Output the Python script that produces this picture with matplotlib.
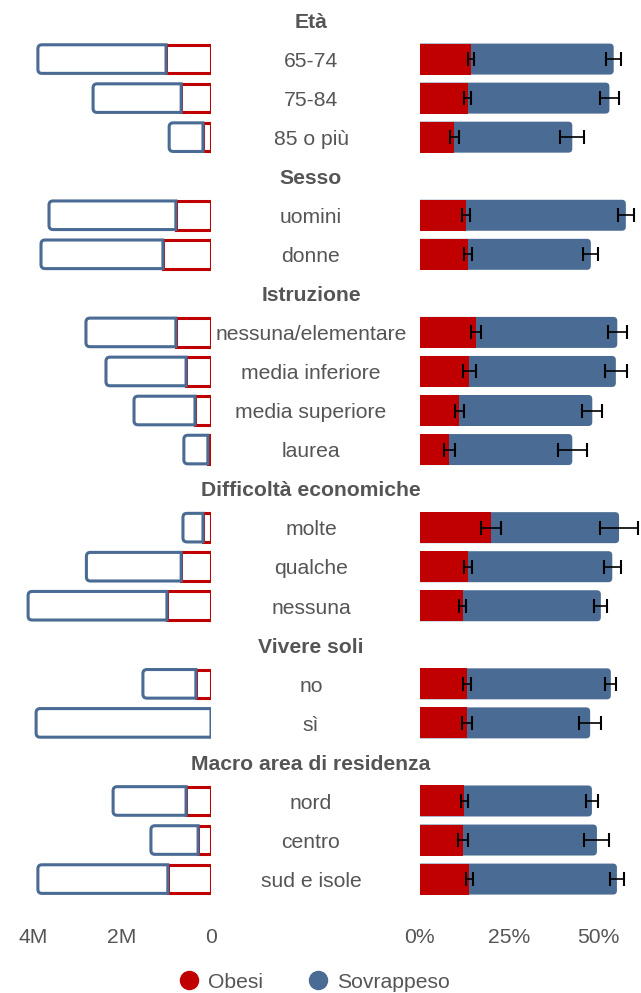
import matplotlib.pyplot as plt
import matplotlib.transforms as mtransforms
from matplotlib.path import Path
from matplotlib.patches import PathPatch, Rectangle
from matplotlib.lines import Line2D

plt.rcParams['font.family'] = ['Liberation Sans', 'DejaVu Sans']

# data
group_titles = ['Età', 'Sesso', 'Istruzione', 'Difficoltà economiche', 'Vivere soli', 'Macro area di residenza']
group_sizes = [3, 2, 4, 3, 2, 3]
categories = ['65-74', '75-84', '85 o più', 'uomini', 'donne',
              'nessuna/elementare', 'media inferiore', 'media superiore', 'laurea',
              'molte', 'qualche', 'nessuna', 'no', 'sì', 'nord', 'centro', 'sud e isole']
# population (millions)
obesi_pop = [1.01, 0.67, 0.18, 0.79, 1.08, 0.79, 0.56, 0.36, 0.07, 0.18, 0.67, 0.99, 0.34, 0.0, 0.56, 0.29, 0.97]
sovrappeso_pop = [2.88, 1.98, 0.76, 2.85, 2.74, 2.02, 1.80, 1.37, 0.54, 0.45, 2.13, 3.12, 1.19, 3.93, 1.64, 1.06, 2.92]
# prevalence (%)
obesi_pct = [14.4, 13.5, 9.8, 13.0, 13.6, 15.8, 14.0, 11.2, 8.4, 20.0, 13.5, 12.1, 13.3, 13.3, 12.5, 12.2, 13.9]
sovrappeso_pct = [40.0, 39.7, 33.0, 44.8, 34.4, 39.6, 41.0, 37.2, 34.4, 35.9, 40.5, 38.7, 40.3, 34.5, 35.8, 37.5, 41.4]
obesi_err = [0.8, 1.0, 1.3, 1.2, 1.1, 1.3, 1.7, 1.2, 1.6, 2.7, 1.1, 0.9, 1.0, 1.3, 1.0, 1.5, 1.0]
sovrappeso_err = [2.1, 2.7, 3.4, 2.3, 2.1, 2.6, 3.0, 2.8, 4.1, 5.4, 2.4, 1.8, 1.5, 3.1, 1.8, 3.5, 2.0]
left_ticks = [-4, -2, 0]
left_ticklabels = ['4M', '2M', '0']
right_ticks = [0, 25, 50]
right_ticklabels = ['0%', '25%', '50%']

RED = '#c00000'
BLUE = '#4a6b93'
TXT = '#555555'
FS = 15.2

W, H = 641, 993
SLOT = 39.05      # px per row
PX_L = 44.5       # px per million
PX_R = 3.57       # px per percent


def side_round_path(x0, x1, yc, h, rx, ry, side):
    y0, y1 = yc - h / 2, yc + h / 2
    if side == 'left':
        verts = [(x1, y0), (x0 + rx, y0), (x0, y0), (x0, y0 + ry), (x0, y1 - ry),
                 (x0, y1), (x0 + rx, y1), (x1, y1), (x1, y0)]
    else:
        verts = [(x0, y0), (x1 - rx, y0), (x1, y0), (x1, y0 + ry), (x1, y1 - ry),
                 (x1, y1), (x1 - rx, y1), (x0, y1), (x0, y0)]
    codes = [Path.MOVETO, Path.LINETO, Path.CURVE3, Path.CURVE3, Path.LINETO,
             Path.CURVE3, Path.CURVE3, Path.LINETO, Path.CLOSEPOLY]
    return Path(verts, codes)


# slot positions
header_y = []
row_y = []
slot = 0
for n in group_sizes:
    header_y.append(slot)
    slot += 1
    for k in range(n):
        row_y.append(slot)
        slot += 1

fig = plt.figure(figsize=(W / 100, H / 100), dpi=100)
ax_top, ax_bot = 0.5, 898.6
rect_y = 1 - ax_bot / H
rect_h = (ax_bot - ax_top) / H
axL = fig.add_axes([0, rect_y, 211 / W, rect_h])
axR = fig.add_axes([419.5 / W, rect_y, (W - 419.5) / W, rect_h])
ylim = (22.5, -0.5)
axL.set_xlim(-211 / PX_L, 0)
axR.set_xlim(0, (W - 419.5) / PX_R)
for ax in (axL, axR):
    ax.set_ylim(*ylim)
    for s in ax.spines.values():
        s.set_visible(False)
    ax.set_yticks([])
    ax.tick_params(axis='x', length=0, pad=21, labelsize=FS, labelcolor=TXT)

# left: population outlines
hL = 28.6 / SLOT
rxL, ry = 4 / PX_L, 4 / SLOT
for y, o, s in zip(row_y, obesi_pop, sovrappeso_pop):
    if o > 0:
        axL.add_patch(Rectangle((-o, y - hL / 2), o, hL, fill=False, edgecolor=RED,
                                linewidth=2.2, joinstyle='miter'))
    p = side_round_path(-(o + s), -o, y, hL, rxL, ry, 'left')
    axL.add_patch(PathPatch(p, fill=False, edgecolor=BLUE, linewidth=2.2))
axL.set_xticks(left_ticks, labels=left_ticklabels)

# right: prevalence bars
hR = 31 / SLOT
rxR = 4 / PX_R
totals = [o + s for o, s in zip(obesi_pct, sovrappeso_pct)]
for y, o, t in zip(row_y, obesi_pct, totals):
    p = side_round_path(0, t, y, hR, rxR, ry, 'right')
    axR.add_patch(PathPatch(p, facecolor=BLUE, edgecolor='none'))
    axR.add_patch(Rectangle((0, y - hR / 2), o, hR, facecolor=RED, edgecolor='none'))
axR.errorbar(obesi_pct, row_y, xerr=obesi_err, fmt='none', ecolor='black',
             elinewidth=1.2, capsize=5, capthick=1.5)
axR.errorbar(totals, row_y, xerr=sovrappeso_err, fmt='none', ecolor='black',
             elinewidth=1.2, capsize=5, capthick=1.5)
axR.set_xticks(right_ticks, labels=right_ticklabels)

# middle labels
trans = mtransforms.blended_transform_factory(fig.transFigure, axL.transData)
xc = 311 / W
base = 7.8 / SLOT
for y, t in zip(header_y, group_titles):
    fig.text(xc, y + base, t, transform=trans, ha='center', va='baseline', fontsize=FS,
             fontweight='bold', color=TXT)
for y, c in zip(row_y, categories):
    fig.text(xc, y + base, c, transform=trans, ha='center', va='baseline', fontsize=FS, color=TXT)

# legend
handles = [Line2D([], [], linestyle='none', marker='o', markersize=13, color=RED),
           Line2D([], [], linestyle='none', marker='o', markersize=13, color=BLUE)]
fig.legend(handles, ['Obesi', 'Sovrappeso'], loc='center', bbox_to_anchor=(0.488, 1 - 982 / H),
           ncol=2, frameon=False, fontsize=FS, labelcolor=TXT, handletextpad=0.3,
           columnspacing=2.0, handlelength=1.2)

fig.savefig('out.png', dpi=100)
